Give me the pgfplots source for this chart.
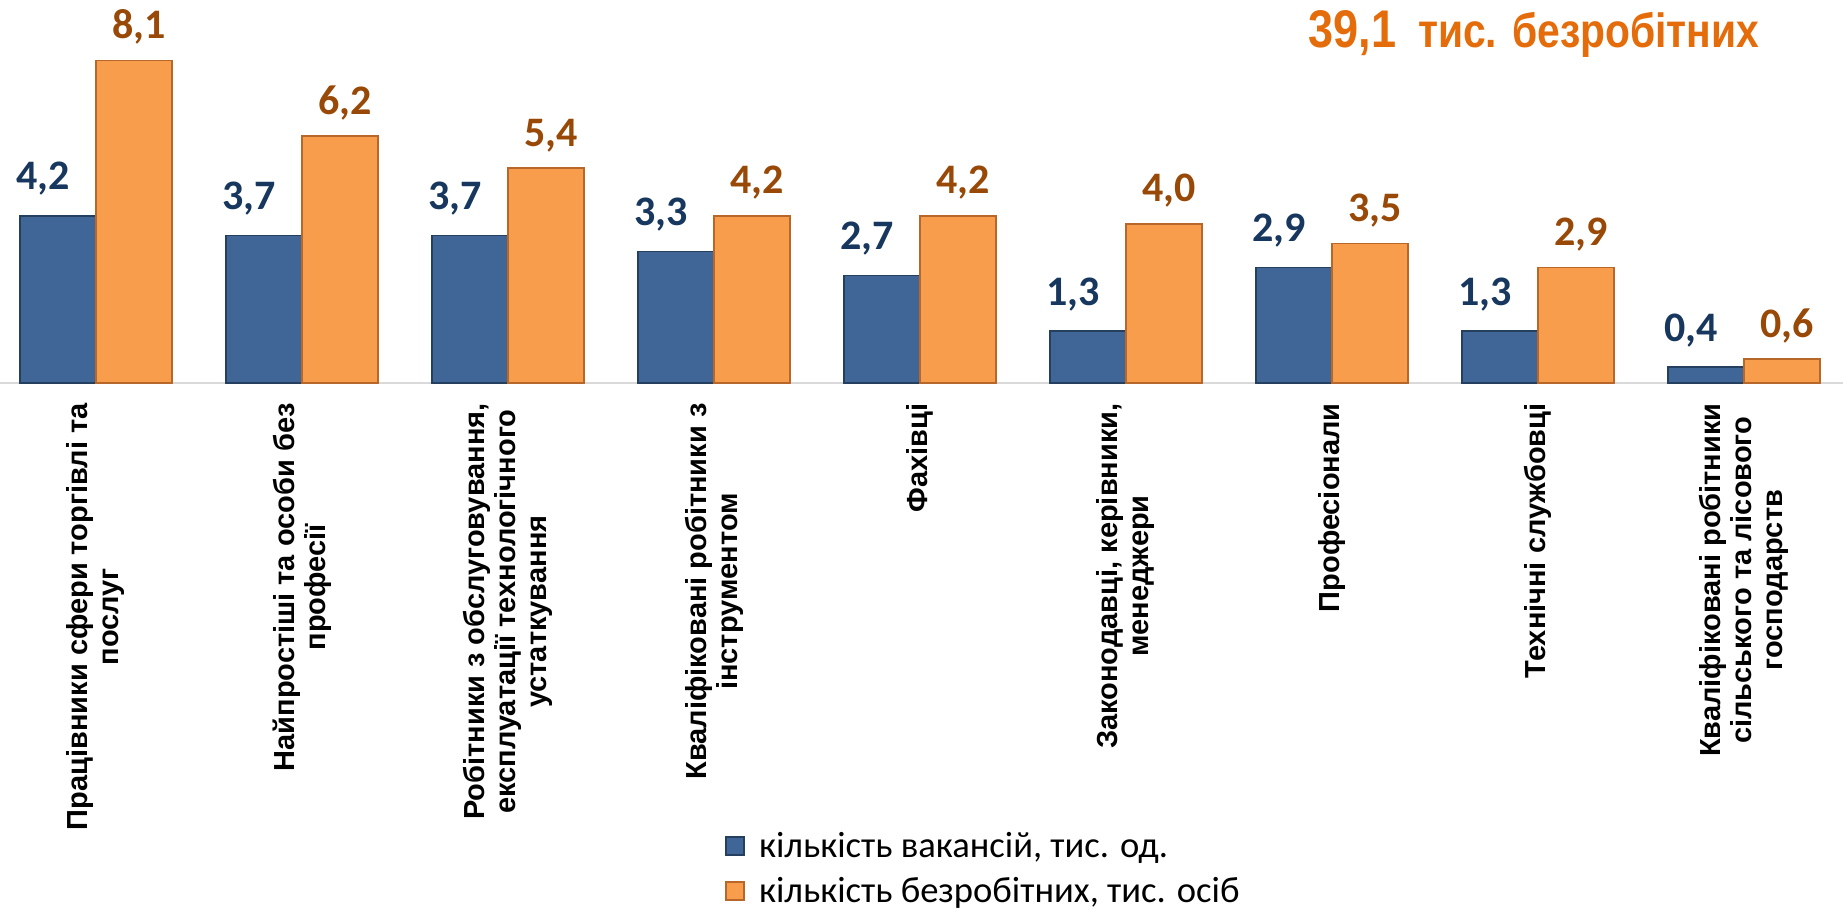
\documentclass[border=0pt]{standalone}
\usepackage{pgfplots}
\pgfplotsset{compat=1.18}
\usepackage{fontspec}
\setmainfont{Liberation Sans}
\newfontfamily\carlito{Carlito}
\newfontfamily\titlefont[FakeStretch=0.85]{Liberation Sans}
\definecolor{blueBar}{HTML}{3F6696}
\definecolor{blueEdge}{HTML}{25405F}
\definecolor{orangeBar}{HTML}{F89D4C}
\definecolor{orangeEdge}{HTML}{B8672A}
\definecolor{blueLab}{HTML}{17375E}
\definecolor{orangeLab}{HTML}{984807}
\definecolor{titleOr}{HTML}{E46C0A}
\begin{document}
\begin{tikzpicture}
\begin{axis}[
  scale only axis, width=921.5pt, height=191.5pt,
  at={(0,0)}, anchor=south west,
  xmin=-0.466, xmax=8.481, ymin=0, ymax=9.62,
  ybar=0pt, bar width=38pt,
  axis x line=bottom, axis y line=none,
  x axis line style={-, draw=black!15, line width=0.8pt},
  xtick={0,...,8}, major tick length=0pt,
  ytick=\empty,
  xticklabels={
    {Працівники сфери торгівлі та\\послуг},
    {Найпростіші та особи без\\професії},
    {Робітники з обслуговування,\\експлуатації технологічного\\устаткування},
    {Кваліфіковані робітники з\\інструментом},
    {Фахівці},
    {Законодавці, керівники,\\менеджери},
    {Професіонали},
    {Технічні службовці},
    {Кваліфіковані робітники\\сільського та лісового\\господарств}},
  xticklabel style={rotate=90, anchor=east, align=center, inner sep=0pt,
    font=\fontsize{14.5}{15.5}\selectfont\bfseries},
  xticklabel shift=10pt,
  clip=false,
  /pgf/number format/.cd, use comma, fixed, fixed zerofill, precision=1, assume math mode=true,
  /pgfplots/.cd,
  nodes near coords,
  legend style={at={(0.3934,-1.268)}, anchor=west, draw=none, fill=none, inner sep=0pt,
    font=\carlito\fontsize{18.3}{21}\selectfont,
    row sep=4.5pt, /tikz/every odd column/.append style={column sep=5pt}},
  legend cell align=left,
  legend image code/.code={\filldraw[#1] (0pt,-4.5pt) rectangle (9pt,4.5pt);},
]
\addplot[fill=blueBar, draw=blueEdge, line width=0.8pt,
  every node near coord/.append style={font=\carlito\bfseries\fontsize{21}{24}\selectfont,
    text=blueLab, anchor=base, inner sep=0pt, yshift=13pt, xshift=-7.5pt}]
  coordinates {(0,4.2) (1,3.7) (2,3.7) (3,3.3) (4,2.7) (5,1.3) (6,2.9) (7,1.3) (8,0.4)};
\addlegendentry{кількість вакансій, тис. од.}
\addplot[fill=orangeBar, draw=orangeEdge, line width=0.8pt,
  every node near coord/.append style={font=\carlito\bfseries\fontsize{21}{24}\selectfont,
    text=orangeLab, anchor=base, inner sep=0pt, yshift=11pt, xshift=2.5pt}]
  coordinates {(0,8.1) (1,6.2) (2,5.4) (3,4.2) (4,4.2) (5,4.0) (6,3.5) (7,2.9) (8,0.6)};
\addlegendentry{кількість безробітних, тис. осіб}
\node[anchor=base west, inner sep=0pt, text=titleOr] at (axis description cs:0.7097,0.8747)
  {\titlefont\bfseries\fontsize{26.5}{30}\selectfont 39,1\hskip 11pt\fontsize{24}{28}\selectfont тис. безробітних};
\end{axis}
\pgfresetboundingbox
\path[use as bounding box] (0,-263.5pt) rectangle (921.5pt,191.5pt);
\end{tikzpicture}
\end{document}
